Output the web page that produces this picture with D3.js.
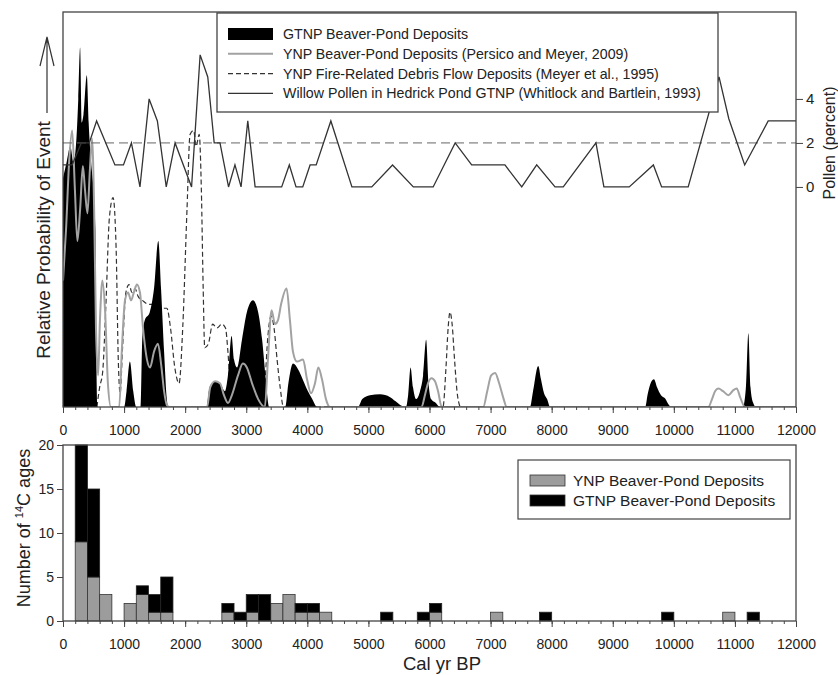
<!DOCTYPE html>
<html>
<head>
<meta charset="utf-8">
<script src="https://cdn.jsdelivr.net/npm/d3@7"></script>
<style>
  body { margin: 0; background: #fff; }
  svg { display: block; }
  text { font-family: "Liberation Sans", Arial, Helvetica, sans-serif; fill: #222; }
</style>
</head>
<body>
<svg id="chart" width="838" height="675"></svg>
<script>
// ---- Relative probability of beaver-pond / debris-flow events, [cal yr BP, relative probability] ----
const gtnpProb = [
  [0,0.58],[60,0.62],[120,0.66],[170,0.62],[220,0.68],[250,0.78],[280,0.91],[305,0.72],[335,0.74],
  [390,0.84],[420,0.72],[460,0.62],[500,0.55],[530,0.45],[545,0.15],[565,0],
  [1000,0],[1040,0.04],[1095,0.115],[1150,0.04],[1200,0],
  [1275,0],[1300,0.18],[1340,0.22],[1420,0.24],[1490,0.3],[1560,0.42],[1605,0.3],[1655,0.14],[1700,0.02],[1720,0],
  [2350,0],[2400,0.05],[2490,0.065],[2570,0.06],[2650,0.04],[2700,0.08],[2760,0.18],[2800,0.12],[2850,0.1],
  [2930,0.17],[3010,0.24],[3110,0.27],[3195,0.24],[3260,0.17],[3320,0.07],[3375,0],
  [3640,0],[3690,0.06],[3765,0.11],[3850,0.095],[3930,0.068],[4010,0.04],[4080,0.02],[4160,0],
  [4830,0],[4900,0.02],[5025,0.03],[5190,0.032],[5355,0.025],[5440,0.015],[5520,0.005],
  [5615,0],[5650,0.03],[5690,0.1],[5730,0.05],[5780,0.02],[5845,0.04],[5895,0.08],[5945,0.17],[5985,0.06],
  [6025,0.02],[6105,0.01],[6170,0],
  [7645,0],[7695,0.04],[7780,0.104],[7825,0.07],[7875,0.035],[7925,0.02],[7975,0],
  [9530,0],[9575,0.035],[9625,0.062],[9675,0.07],[9725,0.05],[9790,0.03],[9855,0.022],[9920,0.005],[9960,0],
  [11130,0],[11180,0.05],[11220,0.187],[11255,0.05],[11300,0.01],[11345,0],[12000,0]
];

const ynpProb = [
  [0,0.32],[50,0.45],[100,0.62],[150,0.7],[195,0.55],[235,0.42],[280,0.5],[325,0.61],[360,0.55],[400,0.49],
  [440,0.6],[475,0.68],[510,0.5],[540,0.2],[575,0.08],[605,0.22],[645,0.32],[690,0.24],[735,0.06],[785,0],
  [920,0],[965,0.15],[1015,0.27],[1065,0.29],[1115,0.27],[1160,0.29],[1210,0.31],[1260,0.29],[1310,0.2],
  [1375,0.12],[1425,0.1],[1490,0.14],[1555,0.16],[1605,0.11],[1655,0.04],[1700,0.005],[1750,0],
  [2360,0],[2410,0.05],[2490,0.065],[2570,0.06],[2635,0.03],[2700,0.01],[2765,0.03],[2865,0.08],[2945,0.11],
  [3010,0.1],[3095,0.06],[3195,0.02],
  [3305,0],[3355,0.12],[3415,0.245],[3470,0.21],[3520,0.22],[3570,0.26],[3660,0.3],[3715,0.22],[3765,0.14],
  [3830,0.115],[3930,0.12],[3995,0.07],[4060,0.035],[4125,0.06],[4180,0.1],[4240,0.07],[4305,0.02],[4370,0],
  [5870,0],[5925,0.03],[5975,0.06],[6035,0.073],[6090,0.065],[6140,0.04],[6200,0],
  [6880,0],[6945,0.04],[7010,0.08],[7075,0.086],[7140,0.06],[7205,0.025],[7265,0],
  [10565,0],[10625,0.02],[10675,0.04],[10730,0.047],[10805,0.04],[10895,0.03],[10970,0.042],[11030,0.047],
  [11085,0.025],[11165,0],[12000,0]
];

const fireProb = [
  [555,0],[600,0.05],[650,0.09],[700,0.25],[760,0.48],[820,0.53],[870,0.4],[905,0.12],[935,0.035],[975,0.15],
  [1030,0.29],[1080,0.31],[1130,0.29],[1180,0.3],[1230,0.28],[1300,0.27],[1400,0.26],[1500,0.26],[1600,0.25],
  [1700,0.25],[1760,0.2],[1830,0.1],[1900,0.06],[1960,0.2],[2030,0.5],[2080,0.69],[2140,0.7],[2180,0.66],
  [2230,0.69],[2265,0.55],[2295,0.3],[2320,0.15],[2380,0.16],[2450,0.21],[2520,0.2],[2600,0.21],[2660,0.2],
  [2700,0.14],[2740,0.05],[2790,0],
  [3255,0],[3305,0.06],[3355,0.18],[3405,0.23],[3455,0.2],[3505,0.12],[3555,0.05],[3610,0],
  [6220,0],[6270,0.1],[6305,0.2],[6335,0.24],[6370,0.21],[6410,0.12],[6450,0.04],[6500,0]
];

// ---- Willow pollen, Hedrick Pond [cal yr BP, percent] ----
const willowPollen = [
  [0,1],[150,1],[300,2],[430,2],[550,3],[850,1],[990,1],[1120,2],[1260,0],[1410,4],[1545,3],[1690,0],
  [1835,2],[2105,0],[2245,6],[2370,5],[2475,2],[2570,2],[2710,0],[2815,1],[2915,0],[3025,3],[3145,0],
  [3580,0],[3705,1],[3815,0],[3925,0],[4045,1],[4145,1],[4385,3],[4730,0],[5055,0],[5395,1],[5735,0],
  [6060,0],[6420,2],[6690,1],[7235,1],[7510,0],[7755,1],[8055,0],[8190,0],[8725,2],[8855,0],[9270,0],
  [9665,1],[9800,0],[10235,0],[10740,5],[10900,3.1],[11160,1],[11545,3],[12000,3]
];
const pollenReference = 2;

// ---- Histogram of 14C ages, 200-yr bins ----
const binStarts  = [200,400,600,1000,1200,1400,1600,2600,2800,3000,3200,3400,3600,3800,4000,4200,5200,5800,6000,7000,7800,9800,10800,11200];
const ynpCounts  = [9,5,3,2,3,1,1,1,0,1,0,2,3,1,1,1,0,0,1,1,0,0,1,0];
const gtnpCounts = [11,10,0,0,1,2,4,1,1,2,3,0,0,1,1,0,1,1,1,0,1,1,0,1];
const binWidth = 200;

// ---- Axis ticks and labels ----
const yearTicks   = [0,1000,2000,3000,4000,5000,6000,7000,8000,9000,10000,11000,12000];
const pollenTicks = [0,2,4];
const countTicks  = [0,5,10,15,20];

const topLegend = [
  "GTNP Beaver-Pond Deposits",
  "YNP Beaver-Pond Deposits (Persico and Meyer, 2009)",
  "YNP Fire-Related Debris Flow Deposits (Meyer et al., 1995)",
  "Willow Pollen in Hedrick Pond GTNP (Whitlock and Bartlein, 1993)"
];
const bottomLegend = ["YNP Beaver-Pond Deposits", "GTNP Beaver-Pond Deposits"];

// ---- Layout ----
const L = 63, R = 796;
const T1 = 12, B1 = 407;      // upper panel
const T2 = 445, B2 = 621;     // lower panel

const svg = d3.select("#chart");

const x = d3.scaleLinear().domain([0, 12000]).range([L, R]);
const yProb = d3.scaleLinear().domain([0, 1]).range([B1, T1]);
const yPollen = d3.scaleLinear().domain([-10, 7.95]).range([B1, T1]);
const yCount = d3.scaleLinear().domain([0, 20]).range([B2, T2]);

const ink = "#2a2a2a";

// ---------- Upper panel ----------
svg.append("clipPath").attr("id", "clipTop")
  .append("rect").attr("x", L).attr("y", T1).attr("width", R - L).attr("height", B1 - T1);

const gTop = svg.append("g").attr("clip-path", "url(#clipTop)");

const probLine = d3.line().x(d => x(d[0])).y(d => yProb(d[1])).curve(d3.curveMonotoneX);
const probArea = d3.area().x(d => x(d[0])).y0(yProb(0)).y1(d => yProb(d[1])).curve(d3.curveMonotoneX);

gTop.append("path").datum(fireProb)
  .attr("d", probLine).attr("fill", "none")
  .attr("stroke", "#333").attr("stroke-width", 1.2).attr("stroke-dasharray", "5,3");

gTop.append("path").datum(gtnpProb)
  .attr("d", probArea).attr("fill", "#000");

gTop.append("path").datum(ynpProb)
  .attr("d", probLine).attr("fill", "none")
  .attr("stroke", "#a2a2a2").attr("stroke-width", 2);

gTop.append("line")
  .attr("x1", x(0)).attr("x2", x(12000))
  .attr("y1", yPollen(pollenReference)).attr("y2", yPollen(pollenReference))
  .attr("stroke", "#666").attr("stroke-width", 1).attr("stroke-dasharray", "9,5");

gTop.append("path").datum(willowPollen)
  .attr("d", d3.line().x(d => x(d[0])).y(d => yPollen(d[1])))
  .attr("fill", "none").attr("stroke", "#333").attr("stroke-width", 1.3);

svg.append("rect")
  .attr("x", L).attr("y", T1).attr("width", R - L).attr("height", B1 - T1)
  .attr("fill", "none").attr("stroke", "#444").attr("stroke-width", 1.3);

function styleAxis(g, size) {
  g.select(".domain").remove();
  g.selectAll(".tick line").attr("stroke", "#444");
  g.selectAll(".tick text").attr("font-size", size)
    .attr("font-family", "'Liberation Sans', Arial, sans-serif").attr("fill", "#222");
}

const minorYears = d3.range(0, 12001, 200);

function yearAxes(yPos) {
  svg.append("g").attr("transform", `translate(0,${yPos})`)
    .call(d3.axisBottom(x).tickValues(minorYears).tickSize(3).tickFormat(""))
    .call(g => styleAxis(g, 14));
  svg.append("g").attr("transform", `translate(0,${yPos})`)
    .call(d3.axisBottom(x).tickValues(yearTicks).tickSize(6).tickPadding(12).tickFormat(d3.format("d")))
    .call(g => styleAxis(g, 14));
}
yearAxes(B1);

svg.append("g").attr("transform", `translate(${R},0)`)
  .call(d3.axisRight(yPollen).tickValues(pollenTicks).tickSize(7).tickPadding(3))
  .call(g => styleAxis(g, 15));

// Left title with arrow
svg.append("text")
  .attr("transform", "translate(50,240) rotate(-90)")
  .attr("text-anchor", "middle").attr("font-size", 19)
  .text("Relative Probability of Event");

svg.append("path")
  .attr("d", "M47,113 L47,37 M40,66 L47,37 L54,66")
  .attr("fill", "none").attr("stroke", "#333").attr("stroke-width", 1.2);

svg.append("text")
  .attr("transform", "translate(835,143) rotate(-90)")
  .attr("text-anchor", "middle").attr("font-size", 16)
  .text("Pollen (percent)");

// Upper legend
const lg = svg.append("g");
lg.append("rect").attr("x", 217).attr("y", 13).attr("width", 501).attr("height", 99)
  .attr("fill", "#fff").attr("stroke", "#444").attr("stroke-width", 1.3);
const rowY = i => 34 + i * 19.8;
lg.append("rect").attr("x", 228).attr("y", rowY(0) - 6).attr("width", 45).attr("height", 12).attr("fill", "#000");
lg.append("line").attr("x1", 228).attr("x2", 273).attr("y1", rowY(1)).attr("y2", rowY(1))
  .attr("stroke", "#a2a2a2").attr("stroke-width", 2);
lg.append("line").attr("x1", 228).attr("x2", 273).attr("y1", rowY(2)).attr("y2", rowY(2))
  .attr("stroke", "#333").attr("stroke-width", 1.2).attr("stroke-dasharray", "5,3");
lg.append("line").attr("x1", 228).attr("x2", 273).attr("y1", rowY(3)).attr("y2", rowY(3))
  .attr("stroke", "#333").attr("stroke-width", 1.3);
lg.selectAll("text.lab").data(topLegend).join("text")
  .attr("x", 283).attr("y", (d, i) => rowY(i)).attr("dy", "0.35em")
  .attr("font-size", 14.2).text(d => d);

// ---------- Lower panel ----------
const bins = binStarts.map((s, i) => ({ s, ynp: ynpCounts[i], gtnp: gtnpCounts[i] }));
const gBot = svg.append("g");

gBot.selectAll("rect.ynp").data(bins.filter(d => d.ynp > 0)).join("rect")
  .attr("class", "ynp")
  .attr("x", d => x(d.s)).attr("width", d => x(d.s + binWidth) - x(d.s))
  .attr("y", d => yCount(d.ynp)).attr("height", d => yCount(0) - yCount(d.ynp))
  .attr("fill", "#9c9c9c").attr("stroke", "#333").attr("stroke-width", 0.8);

gBot.selectAll("rect.gtnp").data(bins.filter(d => d.gtnp > 0)).join("rect")
  .attr("class", "gtnp")
  .attr("x", d => x(d.s)).attr("width", d => x(d.s + binWidth) - x(d.s))
  .attr("y", d => yCount(d.ynp + d.gtnp)).attr("height", d => yCount(d.ynp) - yCount(d.ynp + d.gtnp))
  .attr("fill", "#000").attr("stroke", "#222").attr("stroke-width", 0.8);

svg.append("rect")
  .attr("x", L).attr("y", T2).attr("width", R - L).attr("height", B2 - T2)
  .attr("fill", "none").attr("stroke", "#444").attr("stroke-width", 1.3);

yearAxes(B2);

svg.append("g").attr("transform", `translate(${L},0)`)
  .call(d3.axisLeft(yCount).tickValues(countTicks).tickSize(6).tickPadding(3))
  .call(g => styleAxis(g, 14));

const yt = svg.append("text")
  .attr("transform", "translate(30,528) rotate(-90)")
  .attr("text-anchor", "middle").attr("font-size", 18);
yt.append("tspan").text("Number of ");
yt.append("tspan").attr("font-size", 11).attr("dy", -7).text("14");
yt.append("tspan").attr("dy", 7).text("C ages");

svg.append("text")
  .attr("x", 442).attr("y", 670).attr("text-anchor", "middle").attr("font-size", 18.5)
  .text("Cal yr BP");

// Lower legend
const lg2 = svg.append("g");
lg2.append("rect").attr("x", 518).attr("y", 460).attr("width", 272).attr("height", 59)
  .attr("fill", "#fff").attr("stroke", "#444").attr("stroke-width", 1.2);
const fills2 = ["#9c9c9c", "#000"];
lg2.selectAll("rect.sw").data(bottomLegend).join("rect")
  .attr("class", "sw")
  .attr("x", 530).attr("y", (d, i) => 475 + i * 20).attr("width", 35).attr("height", 11)
  .attr("fill", (d, i) => fills2[i]).attr("stroke", "#333").attr("stroke-width", 0.8);
lg2.selectAll("text").data(bottomLegend).join("text")
  .attr("x", 573).attr("y", (d, i) => 480.5 + i * 20).attr("dy", "0.35em")
  .attr("font-size", 15.5).text(d => d);
</script>
</body>
</html>
